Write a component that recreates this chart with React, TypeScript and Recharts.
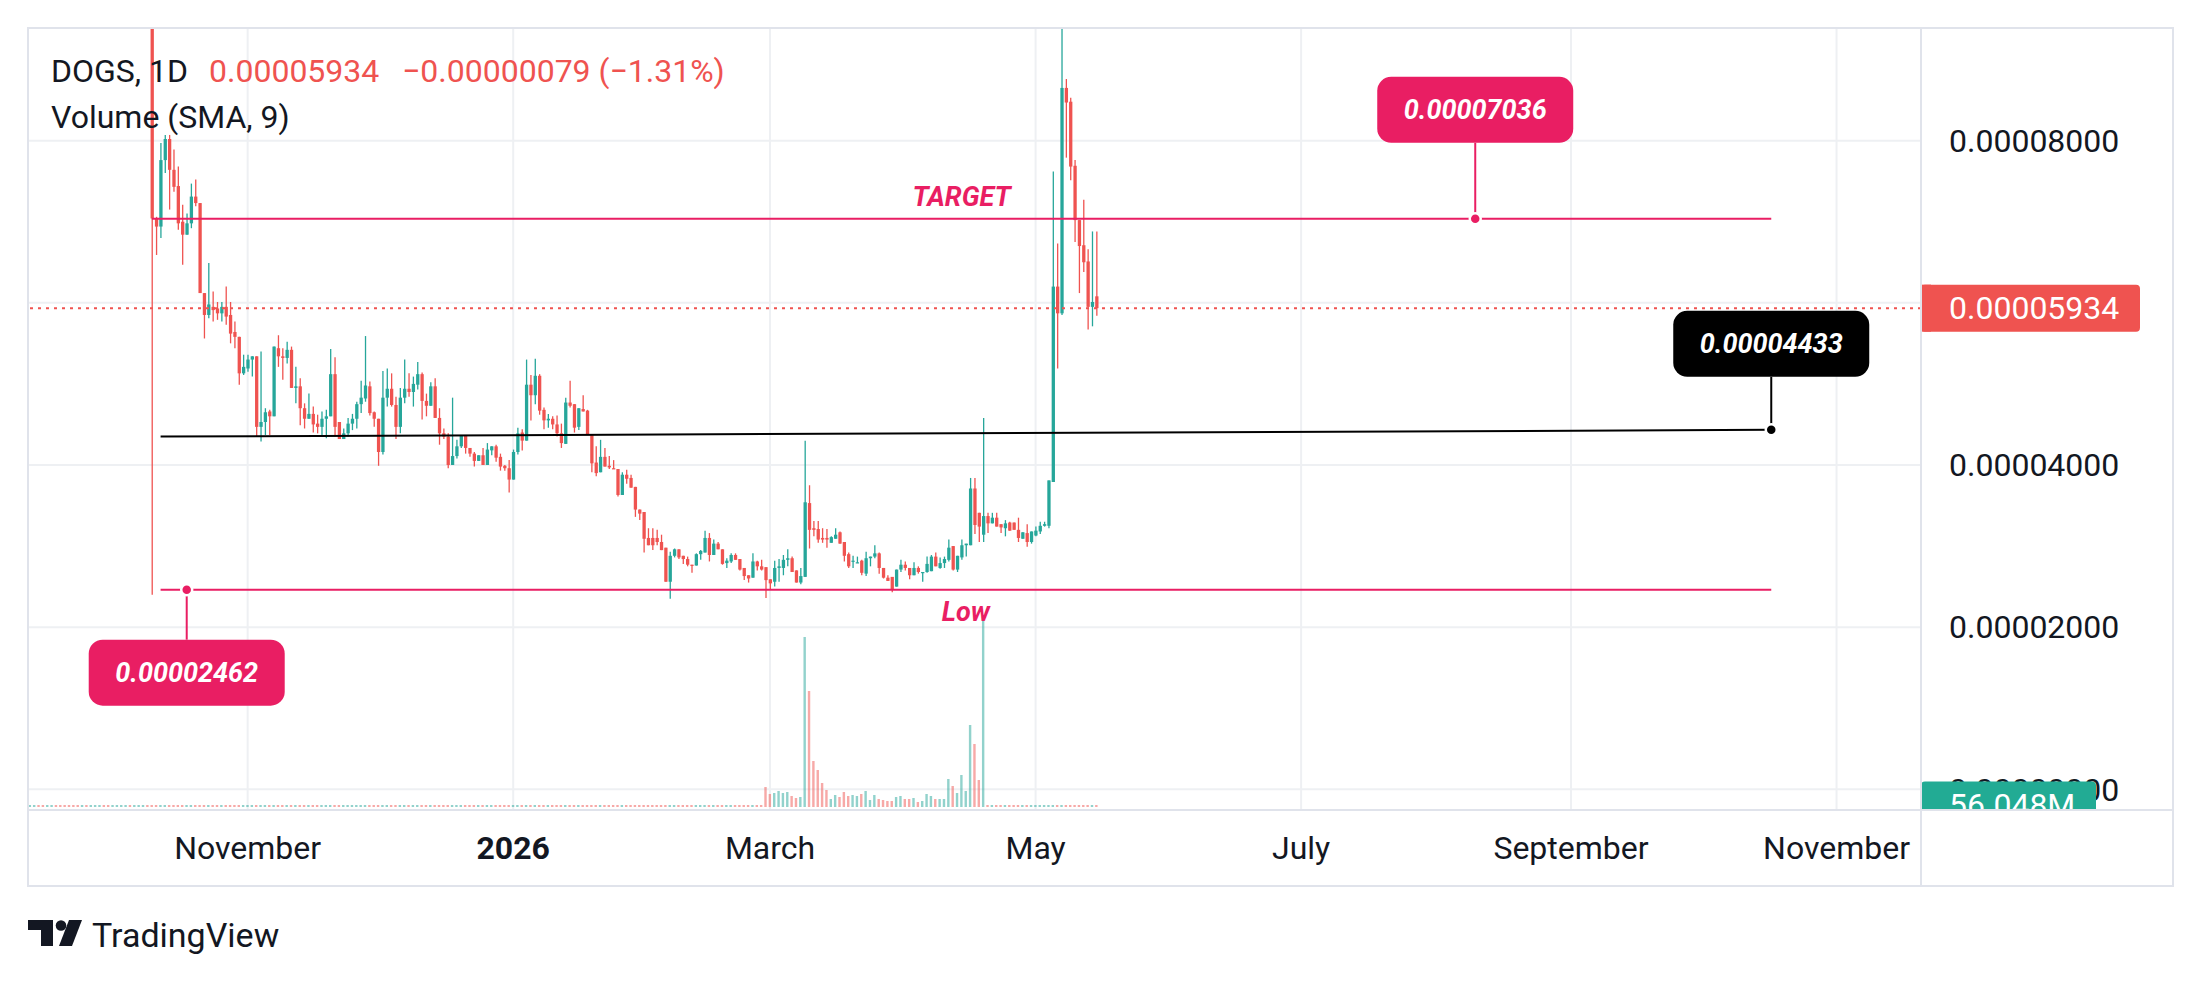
import React from "react";
import {
  Bar,
  CartesianGrid,
  ComposedChart,
  ReferenceDot,
  ReferenceLine,
  XAxis,
  YAxis,
} from "recharts";

// prices are stored in units of 0.00001 (1e-5)
const PRICE_UNIT = 1e-5;

// day 0 = first daily candle; one row per day
const opens = [
  9.6, 7.04, 6.94, 7.76, 8.02, 7.64, 7.44, 7.0, 6.84, 6.98,
  7.31, 7.23, 6.12, 5.85, 5.95, 5.93, 5.87, 5.95, 5.85, 5.64,
  5.58, 5.13, 5.19, 5.3, 5.34, 4.47, 4.53, 4.66, 4.6, 5.44,
  5.34, 5.32, 5.42, 4.95, 4.97, 4.7, 4.57, 4.63, 4.51, 4.47,
  4.57, 4.6, 5.12, 4.53, 4.32, 4.39, 4.51, 4.57, 4.75, 4.82,
  4.97, 4.65, 4.57, 4.16, 4.83, 4.94, 4.74, 4.47, 4.83, 4.94,
  4.9, 4.99, 5.12, 4.79, 4.73, 4.97, 4.58, 4.39, 4.35, 4.0,
  4.11, 4.23, 4.37, 4.21, 4.14, 4.05, 4.12, 4.0, 4.18, 4.23,
  4.1, 3.99, 3.96, 3.82, 4.16, 4.4, 4.3, 4.99, 4.86, 5.1,
  4.68, 4.55, 4.57, 4.5, 4.39, 4.26, 4.77, 4.75, 4.47, 4.69,
  4.67, 4.38, 4.03, 3.91, 4.1, 3.99, 3.96, 3.95, 3.63, 3.88,
  3.84, 3.73, 3.45, 3.42, 3.1, 3.1, 3.1, 3.05, 2.98, 2.56,
  2.88, 2.96, 2.88, 2.84, 2.77, 2.76, 2.9, 2.92, 3.1, 2.89,
  3.03, 2.96, 2.79, 2.81, 2.89, 2.84, 2.73, 2.64, 2.61, 2.81,
  2.75, 2.74, 2.59, 2.56, 2.73, 2.73, 2.83, 2.85, 2.7, 2.55,
  2.62, 3.53, 3.22, 3.21, 3.1, 3.1, 3.04, 3.09, 3.17, 3.05,
  2.9, 2.81, 2.79, 2.82, 2.66, 2.85, 2.87, 2.91, 2.73, 2.61,
  2.62, 2.5, 2.71, 2.77, 2.73, 2.64, 2.73, 2.67, 2.68, 2.69,
  2.87, 2.73, 2.79, 2.83, 3.0, 2.71, 2.86, 3.01, 3.01, 3.71,
  3.41, 3.14, 3.37, 3.28, 3.35, 3.27, 3.22, 3.29, 3.29, 3.2,
  3.09, 3.16, 3.05, 3.13, 3.18, 3.25, 3.25, 3.79, 6.2, 5.87,
  8.65, 8.48, 7.69, 7.02, 6.71, 6.51, 5.95, 6.08,
];
const highs = [
  9.8, 7.06, 7.97, 8.07, 8.07, 7.89, 7.68, 7.21, 7.1, 7.47,
  7.52, 7.23, 6.12, 6.49, 6.14, 6.01, 6.01, 6.2, 6.01, 5.77,
  5.58, 5.36, 5.36, 5.34, 5.34, 5.4, 4.7, 4.68, 5.46, 5.6,
  5.44, 5.52, 5.46, 5.21, 5.07, 4.76, 4.88, 4.72, 4.62, 4.66,
  4.68, 5.43, 5.33, 4.53, 4.45, 4.58, 4.63, 4.78, 5.04, 5.59,
  5.03, 4.66, 4.57, 5.16, 5.19, 5.13, 4.84, 4.95, 5.3, 5.13,
  5.09, 5.27, 5.14, 4.88, 5.02, 5.07, 4.7, 4.45, 4.39, 4.83,
  4.31, 4.37, 4.37, 4.21, 4.16, 4.12, 4.21, 4.27, 4.23, 4.25,
  4.14, 4.0, 4.06, 4.19, 4.46, 4.44, 5.3, 5.11, 5.31, 5.12,
  4.71, 4.63, 4.6, 4.61, 4.51, 4.83, 5.04, 4.75, 4.7, 4.86,
  4.68, 4.38, 4.23, 4.31, 4.21, 4.11, 4.06, 3.95, 3.91, 3.94,
  3.88, 3.73, 3.45, 3.42, 3.22, 3.22, 3.2, 3.14, 2.98, 2.93,
  2.97, 2.96, 2.88, 2.87, 2.77, 2.91, 2.95, 3.19, 3.16, 3.08,
  3.05, 2.96, 2.85, 2.91, 2.91, 2.84, 2.73, 2.64, 2.91, 2.82,
  2.83, 2.74, 2.59, 2.82, 2.84, 2.89, 2.96, 2.87, 2.7, 2.73,
  4.3, 3.75, 3.31, 3.31, 3.22, 3.21, 3.12, 3.22, 3.18, 3.05,
  2.92, 2.88, 2.87, 2.83, 2.93, 2.87, 3.01, 2.92, 2.73, 2.64,
  2.62, 2.71, 2.83, 2.81, 2.73, 2.8, 2.75, 2.68, 2.87, 2.89,
  2.92, 2.86, 2.87, 3.08, 3.0, 2.88, 3.08, 3.03, 3.84, 3.84,
  3.41, 4.58, 3.41, 3.41, 3.41, 3.27, 3.32, 3.3, 3.29, 3.35,
  3.17, 3.27, 3.18, 3.24, 3.3, 3.3, 3.81, 7.62, 6.73, 9.6,
  8.76, 8.53, 7.76, 7.02, 7.27, 6.66, 6.88, 6.88,
];
const lows = [
  2.4, 6.59, 6.8, 7.6, 7.15, 7.37, 6.9, 6.47, 6.84, 6.92,
  7.19, 6.12, 5.56, 5.81, 5.77, 5.79, 5.77, 5.73, 5.5, 5.44,
  4.99, 5.11, 5.15, 5.09, 4.35, 4.29, 4.37, 4.37, 4.6, 5.21,
  5.05, 5.25, 4.95, 4.76, 4.49, 4.45, 4.57, 4.4, 4.39, 4.37,
  4.33, 4.6, 4.35, 4.32, 4.32, 4.35, 4.43, 4.45, 4.64, 4.78,
  4.61, 4.47, 3.99, 4.13, 4.72, 4.72, 4.32, 4.39, 4.76, 4.84,
  4.72, 4.93, 4.56, 4.6, 4.73, 4.58, 4.25, 4.32, 3.96, 4.0,
  4.08, 4.21, 4.14, 4.1, 3.98, 4.05, 4.0, 4.0, 4.12, 4.04,
  3.93, 3.93, 3.66, 3.82, 4.13, 4.18, 4.3, 4.55, 4.75, 4.62,
  4.44, 4.46, 4.44, 4.35, 4.21, 4.26, 4.71, 4.4, 4.43, 4.66,
  4.37, 3.91, 3.86, 3.91, 3.98, 3.95, 3.95, 3.61, 3.63, 3.77,
  3.72, 3.36, 3.32, 2.92, 3.01, 2.95, 3.01, 2.95, 2.56, 2.35,
  2.86, 2.84, 2.78, 2.75, 2.67, 2.76, 2.83, 2.92, 2.81, 2.89,
  2.96, 2.77, 2.73, 2.79, 2.83, 2.7, 2.58, 2.55, 2.61, 2.7,
  2.7, 2.36, 2.47, 2.5, 2.56, 2.64, 2.75, 2.68, 2.55, 2.53,
  2.62, 2.97, 3.12, 3.04, 3.04, 2.98, 3.04, 3.09, 3.03, 2.81,
  2.73, 2.73, 2.79, 2.64, 2.63, 2.75, 2.85, 2.66, 2.6, 2.57,
  2.43, 2.5, 2.68, 2.7, 2.59, 2.64, 2.66, 2.56, 2.67, 2.69,
  2.75, 2.72, 2.73, 2.81, 2.7, 2.68, 2.83, 2.87, 3.01, 3.15,
  3.05, 3.05, 3.16, 3.28, 3.24, 3.16, 3.12, 3.19, 3.2, 3.05,
  3.09, 2.99, 3.03, 3.12, 3.15, 3.24, 3.22, 3.79, 5.19, 5.85,
  7.79, 7.51, 6.75, 6.12, 6.38, 5.67, 5.71, 5.84,
];
const closes = [
  7.04, 6.94, 7.76, 8.02, 7.64, 7.43, 6.98, 6.84, 6.98, 7.31,
  7.23, 6.12, 5.85, 5.98, 5.91, 5.87, 5.95, 5.83, 5.62, 5.58,
  5.13, 5.21, 5.3, 5.34, 4.47, 4.53, 4.65, 4.6, 5.46, 5.34,
  5.32, 5.42, 4.95, 4.97, 4.7, 4.57, 4.63, 4.5, 4.47, 4.57,
  4.6, 5.12, 4.47, 4.32, 4.39, 4.51, 4.57, 4.75, 4.83, 4.98,
  4.64, 4.57, 4.16, 4.83, 4.94, 4.74, 4.47, 4.83, 4.94, 4.9,
  5.0, 5.12, 4.79, 4.73, 4.97, 4.58, 4.39, 4.35, 4.0, 4.11,
  4.23, 4.37, 4.21, 4.14, 4.05, 4.12, 4.0, 4.19, 4.23, 4.09,
  3.98, 3.96, 3.82, 4.16, 4.39, 4.3, 4.99, 4.86, 5.1, 4.67,
  4.55, 4.57, 4.5, 4.39, 4.27, 4.77, 4.73, 4.46, 4.7, 4.66,
  4.37, 4.02, 3.9, 4.1, 3.98, 3.97, 3.95, 3.63, 3.88, 3.83,
  3.72, 3.45, 3.4, 3.09, 3.01, 3.01, 3.05, 2.95, 2.56, 2.88,
  2.96, 2.86, 2.84, 2.77, 2.76, 2.9, 2.94, 3.1, 2.89, 3.03,
  2.96, 2.78, 2.82, 2.89, 2.83, 2.71, 2.63, 2.6, 2.81, 2.75,
  2.71, 2.58, 2.54, 2.73, 2.75, 2.83, 2.85, 2.68, 2.55, 2.63,
  3.54, 3.2, 3.2, 3.08, 3.08, 3.08, 3.11, 3.14, 3.03, 2.88,
  2.75, 2.82, 2.8, 2.67, 2.85, 2.87, 2.91, 2.73, 2.61, 2.57,
  2.47, 2.71, 2.77, 2.73, 2.64, 2.73, 2.68, 2.68, 2.78, 2.87,
  2.75, 2.79, 2.84, 2.98, 2.71, 2.88, 3.01, 3.03, 3.71, 3.26,
  3.24, 3.37, 3.28, 3.35, 3.24, 3.23, 3.28, 3.19, 3.2, 3.1,
  3.17, 3.05, 3.18, 3.19, 3.25, 3.27, 3.81, 6.2, 5.87, 8.65,
  8.47, 7.68, 7.02, 6.7, 6.5, 5.95, 6.01, 5.934,
];
// volume in millions, one per candle
const volumes = [
  56, 56, 56, 56, 56, 56, 56, 56, 56, 56, 56, 56, 56, 56, 56, 56, 56, 56, 56, 56,
  56, 56, 56, 56, 56, 56, 56, 56, 56, 56, 56, 56, 56, 56, 56, 56, 56, 56, 56, 56,
  56, 56, 56, 56, 56, 56, 56, 56, 56, 56, 56, 56, 56, 56, 56, 56, 56, 56, 56, 56,
  56, 56, 56, 56, 56, 56, 56, 56, 56, 56, 56, 56, 56, 56, 56, 56, 56, 56, 56, 56,
  56, 56, 56, 56, 56, 56, 56, 56, 56, 56, 56, 56, 56, 56, 56, 56, 56, 56, 56, 56,
  56, 56, 56, 56, 56, 56, 56, 56, 56, 56, 56, 56, 56, 56, 56, 56, 56, 56, 56, 56,
  56, 56, 56, 56, 56, 56, 56, 56, 56, 56, 56, 56, 56, 56, 56, 56, 56, 56, 56, 56,
  56, 560, 364, 392, 448, 392, 420, 308, 252, 280,
  4760, 3248, 1288, 1036, 672, 476, 224, 336, 280, 420,
  308, 336, 308, 364, 448, 196, 336, 224, 196, 168,
  168, 280, 308, 224, 224, 252, 140, 168, 364, 308,
  224, 224, 224, 784, 588, 392, 896, 448, 2296, 1764,
  756, 5208, 56, 56, 56, 56, 56, 56, 56, 56,
  56, 56, 56, 56, 56, 56, 56, 56, 56, 56, 56, 56, 56, 56, 56, 56, 56, 56,
];
// volume bars drawn before the first candle (days -28..-1), 1 = up colour
const preVolumes = [56, 56, 56, 56, 56, 56, 56, 56, 56, 56, 56, 56, 56, 56, 56, 56, 56, 56, 56, 56, 56, 56, 56, 56, 56, 56, 56, 56];
const preUp = [1, 1, 0, 0, 1, 1, 0, 0, 0, 0, 0, 0, 1, 0, 1, 1, 1, 0, 0, 1, 1, 1, 1, 0, 1, 1, 1, 0];

const monthTicks = [22, 83, 142, 203, 264, 326, 387];
const monthLabels = ["November", "2026", "March", "May", "July", "September", "November"];
const priceTicks = [0, 2, 4, 6, 8];

// drawings
const lastPrice = 5.934;
const lastVolume = 56.048;
const targetPrice = 7.036;
const supportStart = 4.35;
const supportEnd = 4.433;
const lowPrice = 2.462;
const lineStartDay = 2;
const lineEndDay = 372;
const targetDotDay = 304;
const lowDotDay = 8;

const rows = [
  ...preVolumes.map((v, i) => ({ day: i - preVolumes.length, volume: v, up: preUp[i] === 1 })),
  ...opens.map((o, i) => ({
    day: i,
    open: o,
    high: highs[i],
    low: lows[i],
    close: closes[i],
    volume: volumes[i],
    up: closes[i] >= o,
  })),
];

const GREEN = "#26a69a";
const RED = "#ef5350";
const PINK = "#e91e63";
const INK = "#131722";
const FRAME = "#e0e3eb";
const FONT = "Roboto, sans-serif";

const X_DOMAIN: [number, number] = [-28.46, 406.4];
const PRICE_DOMAIN: [number, number] = [-0.255, 9.389];
const VOL_DOMAIN: [number, number] = [-84, 21812];
const PANE = { left: 28, top: 28, right: 1921, bottom: 810, outerRight: 2173, outerBottom: 886 };

const fmtPrice = (v: number) => (v * PRICE_UNIT).toFixed(8);

function CandleShape(props: any) {
  const { x, y, width, height, payload } = props;
  if (!payload || payload.open === undefined) return <g />;
  const { open, high, low, close } = payload;
  const cx = x + width / 2;
  const yHigh = y;
  const yLow = y + height;
  const unit = high - low > 0 ? (yLow - yHigh) / (high - low) : 0;
  const toY = (v: number) => yHigh + (high - v) * unit;
  const color = close >= open ? GREEN : RED;
  const top = toY(Math.max(open, close));
  const bottom = toY(Math.min(open, close));
  return (
    <g>
      <line x1={cx} x2={cx} y1={yHigh} y2={yLow} stroke={color} strokeWidth={1.3} />
      <rect x={cx - 1.65} y={top} width={3.3} height={Math.max(bottom - top, 1.2)} fill={color} />
    </g>
  );
}

function VolumeShape(props: any) {
  const { x, y, width, height, payload } = props;
  if (!payload || !Number.isFinite(y) || !Number.isFinite(height)) return <g />;
  const cx = x + width / 2;
  return (
    <rect
      x={cx - 1.2}
      y={Math.min(y, y + height)}
      width={2.4}
      height={Math.abs(height)}
      fill={payload.up ? "rgba(38,166,154,0.5)" : "rgba(239,83,80,0.5)"}
    />
  );
}

function TimeTick(props: any) {
  const { x, y, payload } = props;
  const label = monthLabels[monthTicks.indexOf(payload.value)] ?? "";
  return (
    <text
      x={x}
      y={y + 38}
      dy="0.35em"
      textAnchor="middle"
      fontSize={32}
      fontFamily={FONT}
      fontWeight={label === "2026" ? 700 : 400}
      fill={INK}
    >
      {label}
    </text>
  );
}

function PriceTick(props: any) {
  const { x, y, payload } = props;
  // 0.00006000 sits under the last-price tag; 0 is drawn with the volume tag so the tag can cover it
  if (payload.value === 6 || payload.value === 0) return <g />;
  return (
    <text x={x} y={y} dy="0.35em" textAnchor="start" fontSize={32} fontFamily={FONT} fill={INK}>
      {fmtPrice(payload.value)}
    </text>
  );
}

function ZeroPriceLabel(props: any) {
  const { viewBox } = props;
  if (!viewBox) return <g />;
  return (
    <text
      x={viewBox.x + viewBox.width + 28}
      y={viewBox.y + viewBox.height / 2}
      dy="0.35em"
      fontSize={32}
      fontFamily={FONT}
      fill={INK}
    >
      {fmtPrice(0)}
    </text>
  );
}

function LastPriceTag(props: any) {
  const { viewBox } = props;
  if (!viewBox) return <g />;
  const left = viewBox.x + viewBox.width;
  const cy = viewBox.y + viewBox.height / 2;
  return (
    <g>
      <rect x={left} y={cy - 23.5} width={219} height={47} rx={4} fill={RED} />
      <rect x={left} y={cy - 23.5} width={10} height={47} fill={RED} />
      <text x={left + 28} y={cy} dy="0.35em" fontSize={32} fontFamily={FONT} fill="#fff">
        {fmtPrice(lastPrice)}
      </text>
    </g>
  );
}

function VolumeTag(props: any) {
  const { viewBox } = props;
  if (!viewBox) return <g />;
  const left = PANE.right;
  const cy = viewBox.y + viewBox.height / 2;
  return (
    <g>
      <defs>
        <clipPath id="vol-tag-clip">
          <rect x={left} y={PANE.top} width={PANE.outerRight - left} height={PANE.bottom - PANE.top} />
        </clipPath>
      </defs>
      <g clipPath="url(#vol-tag-clip)">
        <rect x={left} y={cy - 23.5} width={175} height={47} rx={4} fill="#22ab94" />
        <text x={left + 28} y={cy} dy="0.35em" fontSize={32} fontFamily={FONT} fill="#fff">
          {`${lastVolume.toFixed(3)}M`}
        </text>
      </g>
    </g>
  );
}

function LineTag(props: any) {
  const { viewBox, text, dy } = props;
  if (!viewBox) return <g />;
  const cx = viewBox.x + viewBox.width / 2;
  const cy = viewBox.y + viewBox.height / 2;
  return (
    <text
      x={cx}
      y={cy + dy}
      dy="0.35em"
      textAnchor="middle"
      fontSize={27}
      fontWeight={700}
      fontStyle="italic"
      fontFamily={FONT}
      fill={PINK}
    >
      {text}
    </text>
  );
}

function Callout(props: any) {
  const { cx = 0, cy = 0, text, color, above, gap } = props;
  const boxW = 196;
  const boxH = 66;
  const near = above ? cy - gap : cy + gap;
  const top = above ? near - boxH : near;
  return (
    <g>
      <line x1={cx} x2={cx} y1={cy} y2={near} stroke={color} strokeWidth={2} />
      <rect x={cx - boxW / 2} y={top} width={boxW} height={boxH} rx={14} fill={color} />
      <text
        x={cx}
        y={top + boxH / 2}
        dy="0.35em"
        textAnchor="middle"
        fill="#fff"
        fontSize={27}
        fontWeight={700}
        fontStyle="italic"
        fontFamily={FONT}
      >
        {text}
      </text>
      <circle cx={cx} cy={cy} r={5.5} fill={color} stroke="#fff" strokeWidth={2.5} />
    </g>
  );
}

export default function App() {
  return (
    <div style={{ position: "absolute", left: 0, top: 0, width: 2201, height: 982, background: "#fff" }}>
      <ComposedChart
        width={2201}
        height={982}
        data={rows}
        margin={{ top: 28, right: 28, bottom: 96, left: 28 }}
      >
        <CartesianGrid xAxisId="main" yAxisId="price" stroke="#eef0f3" strokeWidth={2} />
        <XAxis
          xAxisId="main"
          dataKey="day"
          type="number"
          domain={X_DOMAIN}
          allowDataOverflow
          ticks={monthTicks}
          interval={0}
          tick={<TimeTick />}
          tickLine={false}
          tickSize={0}
          tickMargin={0}
          axisLine={false}
          height={76}
        />
        <XAxis xAxisId="vol" dataKey="day" type="number" domain={X_DOMAIN} allowDataOverflow hide />
        <YAxis
          yAxisId="price"
          orientation="right"
          domain={PRICE_DOMAIN}
          allowDataOverflow
          ticks={priceTicks}
          interval={0}
          tick={<PriceTick />}
          tickLine={false}
          tickSize={0}
          tickMargin={28}
          axisLine={false}
          width={252}
        />
        <YAxis yAxisId="vol" domain={VOL_DOMAIN} allowDataOverflow hide />

        <Bar
          xAxisId="vol"
          yAxisId="vol"
          dataKey="volume"
          barSize={2}
          shape={(p: any) => <VolumeShape {...p} />}
          isAnimationActive={false}
        />
        <Bar
          xAxisId="main"
          yAxisId="price"
          dataKey={(d: any) => (d.open === undefined ? null : [d.low, d.high])}
          barSize={3}
          shape={(p: any) => <CandleShape {...p} />}
          isAnimationActive={false}
        />

        <ReferenceLine
          xAxisId="main"
          yAxisId="price"
          y={0}
          stroke="none"
          label={<ZeroPriceLabel />}
        />
        <ReferenceLine
          xAxisId="vol"
          yAxisId="vol"
          y={lastVolume}
          stroke="none"
          label={<VolumeTag />}
        />
        <ReferenceLine
          xAxisId="main"
          yAxisId="price"
          y={lastPrice}
          stroke={RED}
          strokeWidth={2}
          strokeDasharray="3 5"
          label={<LastPriceTag />}
        />
        <ReferenceLine
          xAxisId="main"
          yAxisId="price"
          segment={[
            { x: 0, y: targetPrice },
            { x: lineEndDay, y: targetPrice },
          ]}
          stroke={PINK}
          strokeWidth={2}
          label={<LineTag text="TARGET" dy={-22} />}
        />
        <ReferenceLine
          xAxisId="main"
          yAxisId="price"
          segment={[
            { x: lineStartDay, y: supportStart },
            { x: lineEndDay, y: supportEnd },
          ]}
          stroke="#000"
          strokeWidth={2}
        />
        <ReferenceLine
          xAxisId="main"
          yAxisId="price"
          segment={[
            { x: lineStartDay, y: lowPrice },
            { x: lineEndDay, y: lowPrice },
          ]}
          stroke={PINK}
          strokeWidth={2}
          label={<LineTag text="Low" dy={22} />}
        />
        <ReferenceDot
          xAxisId="main"
          yAxisId="price"
          x={targetDotDay}
          y={targetPrice}
          r={5.5}
          shape={(p: any) => <Callout {...p} text={fmtPrice(targetPrice)} color={PINK} above gap={76} />}
        />
        <ReferenceDot
          xAxisId="main"
          yAxisId="price"
          x={lineEndDay}
          y={supportEnd}
          r={5.5}
          shape={(p: any) => <Callout {...p} text={fmtPrice(supportEnd)} color="#000" above gap={53} />}
        />
        <ReferenceDot
          xAxisId="main"
          yAxisId="price"
          x={lowDotDay}
          y={lowPrice}
          r={5.5}
          shape={(p: any) => <Callout {...p} text={fmtPrice(lowPrice)} color={PINK} above={false} gap={50} />}
        />
      </ComposedChart>

      <svg
        width={2201}
        height={982}
        style={{ position: "absolute", left: 0, top: 0, pointerEvents: "none" }}
      >
        <rect
          x={PANE.left}
          y={PANE.top}
          width={PANE.outerRight - PANE.left}
          height={PANE.outerBottom - PANE.top}
          fill="none"
          stroke={FRAME}
          strokeWidth={2}
        />
        <line x1={PANE.left} x2={PANE.outerRight} y1={PANE.bottom} y2={PANE.bottom} stroke={FRAME} strokeWidth={2} />
        <line x1={PANE.right} x2={PANE.right} y1={PANE.top} y2={PANE.outerBottom} stroke={FRAME} strokeWidth={2} />

        <g fontFamily={FONT} fontSize={32}>
          <text x={51} y={82} fill={INK}>DOGS, 1D</text>
          <text x={209} y={82} fill={RED}>{fmtPrice(lastPrice)}</text>
          <text x={402} y={82} fill={RED}>−0.00000079 (−1.31%)</text>
          <text x={51} y={128} fill={INK}>Volume (SMA, 9)</text>
        </g>

        <g fill={INK}>
          <path d="M28 920 H53 V946 H41 V930 H28 Z" />
          <circle cx={61} cy={925.5} r={5.3} />
          <path d="M69 920 H82 L72 946 H59 Z" />
          <text x={92} y={947} fontFamily={FONT} fontSize={34}>TradingView</text>
        </g>
      </svg>
    </div>
  );
}
